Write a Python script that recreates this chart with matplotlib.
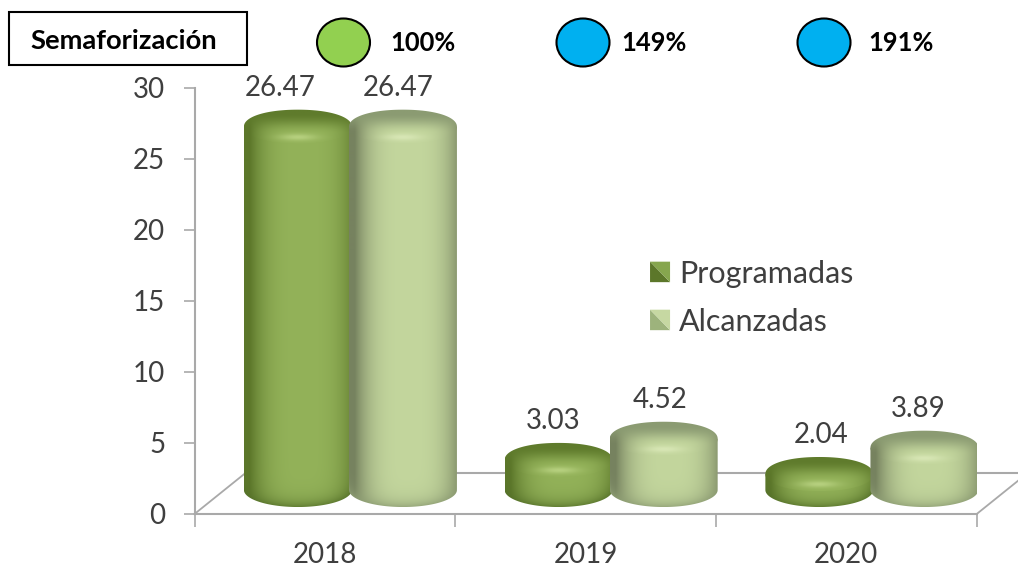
import numpy as np
import matplotlib
matplotlib.use("Agg")
import matplotlib.pyplot as plt
from matplotlib.path import Path
from matplotlib.patches import Ellipse, Rectangle, Polygon
from matplotlib.legend_handler import HandlerBase
from matplotlib.colors import to_rgb

# ---- data ----
years = ["2018", "2019", "2020"]
programadas = [26.47, 3.03, 2.04]
alcanzadas = [26.47, 4.52, 3.89]
series_names = ["Programadas", "Alcanzadas"]
semaforo_title = "Semaforización"
semaforo_labels = ["100%", "149%", "191%"]
semaforo_colors = ["#92D050", "#00B0F0", "#00B0F0"]
y_ticks = [0, 5, 10, 15, 20, 25, 30]

# ---- style ----
plt.rcParams["font.family"] = ["Lato", "DejaVu Sans"]
W, H = 1018, 567
TXT = "#3f3f3f"
AXC = "#a9a9a9"
PAL = {
    "Programadas": dict(edge="#5c772a", mid="#93b259", captop="#5f7b2c", hi="#bcd585", bottom="#56722a"),
    "Alcanzadas": dict(edge="#76825f", mid="#c3d69d", captop="#8b9b72", hi="#dbe9b9", bottom="#8e9e74"),
}
BAR_W = 0.414
DEPTH = 0.098
SHIFT = 0.2015
TOP_OFF = 0.77
BASE_Y = 1.69
RY = 1.2

fig = plt.figure(figsize=(W / 100, H / 100), dpi=100, facecolor="white")
ax = fig.add_axes([194.5 / W, (H - 514) / H, (976.7 - 194.5) / W, (514 - 87.5) / H])
ax.set_xlim(-0.5, 2.5)
ax.set_ylim(0, 30)
ax.patch.set_alpha(0)
ax.set_autoscale_on(False)

for s in ("top", "right"):
    ax.spines[s].set_visible(False)
for s in ("left", "bottom"):
    ax.spines[s].set_color(AXC)
    ax.spines[s].set_linewidth(1.5)

ax.set_yticks(y_ticks)
ax.tick_params(axis="y", length=8, width=1.2, color=AXC, labelsize=20, labelcolor=TXT, pad=13)
ax.set_xticks([-0.5, 0.5, 1.5, 2.5])
ax.set_xticklabels([])
ax.tick_params(axis="x", which="major", length=9.5, width=1.2, color=AXC)
ax.set_xticks(range(len(years)), minor=True)
ax.set_xticklabels(years, minor=True)
ax.tick_params(axis="x", which="minor", length=0, labelsize=20, labelcolor=TXT, pad=20)

# floor of the 3D box
FD_X, FD_Y = 0.194, 2.86
ax.plot([-0.5, -0.5 + FD_X], [0, FD_Y], color=AXC, lw=1.3, zorder=1, clip_on=False)
ax.plot([-0.5 + FD_X, 2.5 + FD_X], [FD_Y, FD_Y], color=AXC, lw=1.5, zorder=1, clip_on=False)
ax.plot([2.5, 2.5 + FD_X], [0, FD_Y], color=AXC, lw=1.3, zorder=1, clip_on=False)


def cylinder(xc, value, pal, z):
    c = {k: np.array(to_rgb(v)) for k, v in pal.items()}
    rx = BAR_W / 2
    y_top = value + TOP_OFF
    t = np.linspace(0, np.pi, 120)
    # body image
    xl, xr = xc - rx, xc + rx
    yhi, ylo = y_top, BASE_Y - RY
    ny = max(int((yhi - ylo) * 14.22), 4)
    nx = 108
    u = np.linspace(-1, 1, nx)
    yy = np.linspace(yhi, ylo, ny)
    U, Y = np.meshgrid(u, yy)
    f = np.clip(1 - np.abs(U - 0.1) ** 3.2, 0, 1)[..., None]
    img = c["edge"] + (c["mid"] - c["edge"]) * f
    low = BASE_Y - RY * np.sqrt(np.clip(1 - U ** 2, 0, 1))
    d = (Y - low) * 14.22
    g = np.exp(-np.clip(d, 0, None) / 7.0)[..., None]
    img = img * (1 - 0.75 * g) + c["bottom"] * 0.75 * g
    vb = np.r_[
        np.c_[xc - rx * np.cos(t), BASE_Y - RY * np.sin(t)],
        [[xr, y_top], [xl, y_top]],
    ]
    im = ax.imshow(np.clip(img, 0, 1), extent=(xl, xr, ylo, yhi), origin="upper", aspect="auto",
                   zorder=z, interpolation="bilinear")
    im.set_clip_path(Path(np.r_[vb, vb[:1]], closed=True), ax.transData)
    # cap image: dark at the back, blending into the body colour at the front rim
    n = 120
    uu = np.linspace(-1, 1, n)
    ww = np.linspace(-1, 1, 60)  # -1 back, +1 front
    UU, WW = np.meshgrid(uu, ww)
    s = np.clip((WW + 0.75) / 1.15, 0, 1)
    s = (s * s * (3 - 2 * s))[..., None]
    prof = c["edge"] + (c["mid"] - c["edge"]) * np.clip(1 - np.abs(UU - 0.1) ** 3.2, 0, 1)[..., None]
    cap = c["captop"] + (prof - c["captop"]) * s
    hl = np.exp(-((UU / 0.36) ** 2) - (((WW - 0.62) / 0.2) ** 2))[..., None]
    cap = cap + (c["hi"] - cap) * hl * 0.85
    a = np.linspace(0, 2 * np.pi, 240)
    p = 0.94
    vc = np.c_[xc + rx * np.sign(np.cos(a)) * np.abs(np.cos(a)) ** p,
               y_top + RY * np.sign(np.sin(a)) * np.abs(np.sin(a)) ** p]
    im2 = ax.imshow(np.clip(cap, 0, 1), extent=(xl, xr, y_top - RY, y_top + RY), origin="upper",
                    aspect="auto", zorder=z + 0.1, interpolation="bilinear")
    im2.set_clip_path(Path(vc, closed=True), ax.transData)


label_dx = {"Programadas": [-18, -5, 2], "Alcanzadas": [-5, -4, -6]}
for j, (name, vals, sign) in enumerate(zip(series_names, [programadas, alcanzadas], [-1, 1])):
    for i, v in enumerate(vals):
        xc = i + DEPTH + sign * SHIFT
        cylinder(xc, v, PAL[name], 3 + i + j * 0.5)
        ax.annotate(f"{v:.2f}", xy=(xc, v + TOP_OFF), xytext=(label_dx[name][i] * 0.72, 28),
                    textcoords="offset points", ha="center", va="center",
                    fontsize=20, color=TXT, zorder=20, annotation_clip=False)
ax.set_xlim(-0.5, 2.5)
ax.set_ylim(0, 30)


class GradSwatch(HandlerBase):
    def __init__(self, dark, light):
        super().__init__()
        self.dark, self.light = dark, light

    def create_artists(self, legend, orig, xd, yd, w, h, fs, trans):
        x0, y0 = -xd, -yd
        a = Polygon([[x0, y0], [x0 + w, y0], [x0, y0 + h]], fc=self.dark, ec="none", transform=trans)
        b = Polygon([[x0 + w, y0 + h], [x0 + w, y0], [x0, y0 + h]], fc=self.light, ec="none", transform=trans)
        return [a, b]


h1 = Rectangle((0, 0), 1, 1)
h2 = Rectangle((0, 0), 1, 1)
leg = fig.legend([h1, h2], series_names,
                 handler_map={h1: GradSwatch("#5c772a", "#86a64e"), h2: GradSwatch("#9db37c", "#c6d8a2")},
                 loc="upper left", bbox_to_anchor=(642.4 / W, 1 - 252 / H), frameon=False,
                 fontsize=22, labelcolor=TXT, handlelength=0.655, handleheight=0.655,
                 handletextpad=0.3, labelspacing=0.655, borderpad=0.25, borderaxespad=0)

# ---- semaphore header (pixel-space overlay) ----
ov = fig.add_axes([0, 0, 1, 1], zorder=30)
ov.set_xlim(0, W)
ov.set_ylim(H, 0)
ov.axis("off")
ov.patch.set_alpha(0)
ov.add_patch(Rectangle((9.5, 11.5), 238, 53, fc="white", ec="black", lw=1.5))
ov.text(30, 41, semaforo_title, fontsize=19.7, fontweight="bold", color="black", va="center", ha="left")
circle_x = [343.5, 583, 824]
text_x = [390, 621, 868]
for cx, tx, lab, col in zip(circle_x, text_x, semaforo_labels, semaforo_colors):
    ov.add_patch(Ellipse((cx, 42.5), 53, 48, fc=col, ec="black", lw=1.5))
    ov.text(tx, 43, lab, fontsize=18.4, fontweight="bold", color="black", va="center", ha="left")

fig.savefig("out.png", dpi=100)
